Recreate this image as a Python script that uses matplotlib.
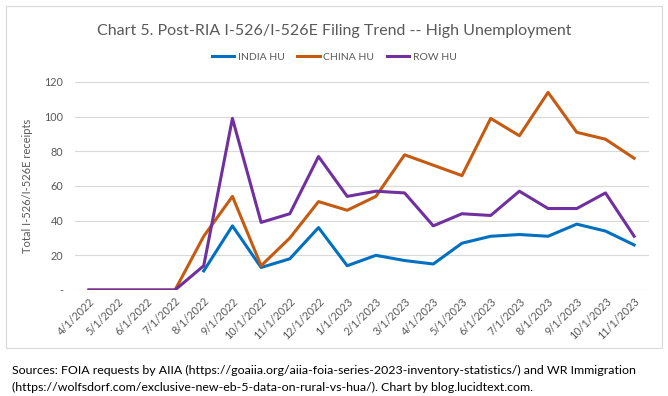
import numpy as np
import matplotlib.pyplot as plt
from matplotlib.patches import Rectangle

months = [
    "4/1/2022", "5/1/2022", "6/1/2022", "7/1/2022", "8/1/2022", "9/1/2022",
    "10/1/2022", "11/1/2022", "12/1/2022", "1/1/2023", "2/1/2023", "3/1/2023",
    "4/1/2023", "5/1/2023", "6/1/2023", "7/1/2023", "8/1/2023", "9/1/2023",
    "10/1/2023", "11/1/2023"
]

india_hu = [np.nan, np.nan, np.nan, np.nan, 11, 37, 13, 18, 36, 14,
            20, 17, 15, 27, 31, 32, 31, 38, 34, 26]
china_hu = [0, 0, 0, 0, 31, 54, 14, 30, 51, 46,
            54, 78, 72, 66, 99, 89, 114, 91, 87, 76]
row_hu = [0, 0, 0, 0, 14, 99, 39, 44, 77, 54,
          57, 56, 37, 44, 43, 57, 47, 47, 56, 31]

y_ticks = [0, 20, 40, 60, 80, 100, 120]
y_tick_labels = ["-", "20", "40", "60", "80", "100", "120"]

plt.rcParams["font.family"] = ["Lato", "DejaVu Sans"]

fig = plt.figure(figsize=(6.68, 3.96), dpi=100)

# chart frame
fig.patches.append(Rectangle((6 / 668, 1 - 348 / 396), 656 / 668, 342 / 396,
                             transform=fig.transFigure, fill=False,
                             edgecolor="#D9D9D9", linewidth=0.8))

ax = fig.add_axes([74.6 / 668, 1 - 290 / 396, (648.5 - 74.6) / 668, 208 / 396])

x = np.arange(len(months))
ax.plot(x, india_hu, color="#0070C0", linewidth=2.2, label="INDIA HU", zorder=3)
ax.plot(x, china_hu, color="#C55A11", linewidth=2.2, label="CHINA HU", zorder=3)
ax.plot(x, row_hu, color="#7030A0", linewidth=2.2, label="ROW HU", zorder=3)

ax.set_xlim(-0.5, len(months) - 0.5)
ax.set_ylim(0, 120)
ax.set_yticks(y_ticks)
ax.set_yticklabels(y_tick_labels)
ax.set_xticks(x)
ax.set_xticklabels(months, rotation=45, ha="right", rotation_mode="anchor")
ax.tick_params(axis="both", length=0, colors="#595959", labelsize=7.8)
ax.tick_params(axis="x", pad=4)
ax.tick_params(axis="y", pad=8)
ax.grid(axis="y", color="#D9D9D9", linewidth=0.8)
ax.set_axisbelow(True)
for s in ax.spines.values():
    s.set_visible(False)

ax.set_ylabel("Total I-526/I-526E receipts", color="#595959", fontsize=8, labelpad=8)

fig.text(0.5, 1 - 31 / 396, "Chart 5. Post-RIA I-526/I-526E Filing Trend -- High Unemployment",
         ha="center", va="center", fontsize=11.5, color="#595959")

fig.legend(loc="center", bbox_to_anchor=(0.5, 1 - 57 / 396), ncol=3, frameon=False,
           fontsize=7.5, labelcolor="#595959", handlelength=2.2, handletextpad=0.3,
           columnspacing=1.2)

fig.text(12 / 668, 1 - 370 / 396,
         "Sources: FOIA requests by AIIA (https://goaiia.org/aiia-foia-series-2023-inventory-statistics/) and WR Immigration",
         ha="left", va="center", fontsize=8.9, color="black")
fig.text(12 / 668, 1 - 387 / 396,
         "(https://wolfsdorf.com/exclusive-new-eb-5-data-on-rural-vs-hua/). Chart by blog.lucidtext.com.",
         ha="left", va="center", fontsize=8.9, color="black")

fig.savefig("out.png", dpi=100)
